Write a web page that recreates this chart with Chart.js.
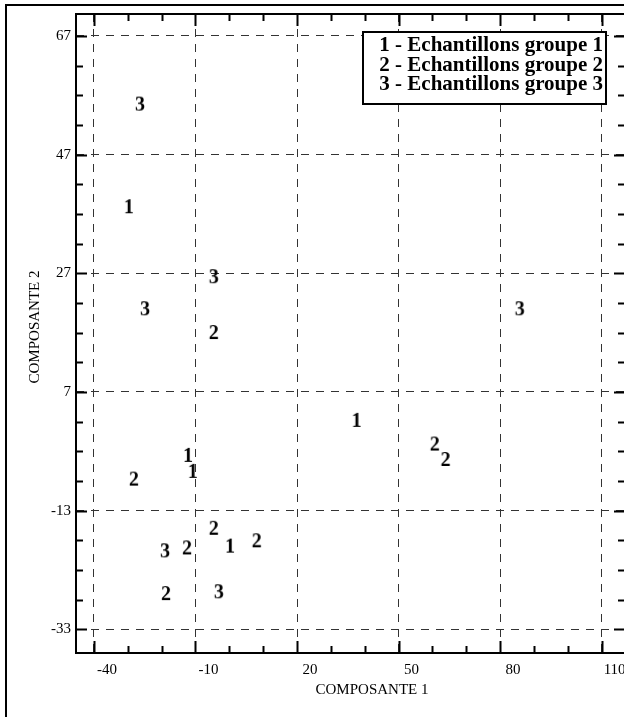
<!DOCTYPE html>
<html>
<head>
<meta charset="utf-8">
<script src="https://cdn.jsdelivr.net/npm/chart.js@4"></script>
<style>
  html, body { margin: 0; padding: 0; overflow: hidden; background: #fff; width: 624px; height: 717px; }
  #wrap { position: absolute; left: 0; top: 0; width: 700px; height: 717px; }
  #frame { position: absolute; left: 5px; top: 4px; width: 800px; height: 800px; border: 2px solid #000; pointer-events: none; }
</style>
</head>
<body>
<div id="wrap"><canvas id="chart" width="700" height="717"></canvas></div>
<div id="frame"></div>
<script>
  // values
  var groupNames = ['Echantillons groupe 1', 'Echantillons groupe 2', 'Echantillons groupe 3'];
  var groupMarks = ['1', '2', '3'];

  var group1X = [-29.7, -12.2, -10.8, 37.6, 0.2];
  var group1Y = [38.3, -3.6, -6.3, 2.3, -18.9];

  var group2X = [-4.6, 60.7, 63.9, -28.2, -4.6, -12.5, 8.1, -18.7];
  var group2Y = [17.1, -1.7, -4.3, -7.6, -15.9, -19.2, -18.0, -26.9];

  var group3X = [-26.4, -24.9, -4.6, 85.8, -19.0, -3.1];
  var group3Y = [55.6, 21.1, 26.5, 21.1, -19.7, -26.6];

  var xTicks = [-40, -10, 20, 50, 80, 110];
  var yTicks = [-33, -13, 7, 27, 47, 67];
  var xTitle = 'COMPOSANTE 1';
  var yTitle = 'COMPOSANTE 2';

  var serif = '"Liberation Serif", "DejaVu Serif", serif';

  function toPoints(xs, ys) {
    var pts = [];
    for (var i = 0; i < xs.length; i++) {
      pts.push({ x: xs[i], y: ys[i] });
    }
    return pts;
  }

  // digit used as the marker
  function markImage(txt) {
    var c = document.createElement('canvas');
    c.width = 18;
    c.height = 22;
    var g = c.getContext('2d');
    g.fillStyle = '#000';
    g.font = 'bold 20px ' + serif;
    g.textAlign = 'center';
    g.textBaseline = 'alphabetic';
    g.fillText(txt, 9, 11 + 6.8);
    return c;
  }

  var framePlugin = {
    id: 'framePlugin',
    afterDraw: function(chart) {
      var ctx = chart.ctx;
      var a = chart.chartArea;
      var xs = chart.scales.x;
      var ys = chart.scales.y;
      ctx.save();
      ctx.strokeStyle = '#000';
      ctx.lineWidth = 2;
      ctx.strokeRect(a.left, a.top, a.right - a.left, a.bottom - a.top);

      // inward tick marks
      ctx.beginPath();
      for (var v = -40; v <= 110; v += 10) {
        var px = Math.round(xs.getPixelForValue(v)) + 0.5;
        var len = ((v + 40) % 30 == 0) ? 12 : 7;
        ctx.moveTo(px, a.bottom);
        ctx.lineTo(px, a.bottom - len);
        ctx.moveTo(px, a.top);
        ctx.lineTo(px, a.top + len);
      }
      for (var w = -33; w <= 67; w += 5) {
        var py = Math.round(ys.getPixelForValue(w)) + 0.5;
        var l2 = ((w + 33) % 20 == 0) ? 11 : 7;
        ctx.moveTo(a.left, py);
        ctx.lineTo(a.left + l2, py);
        ctx.moveTo(a.right, py);
        ctx.lineTo(a.right - l2, py);
      }
      ctx.stroke();

      // axis titles
      ctx.fillStyle = '#000';
      ctx.font = '15px ' + serif;
      ctx.textAlign = 'center';
      ctx.textBaseline = 'middle';
      ctx.fillText(xTitle, 372, 690);
      ctx.translate(35, 327);
      ctx.rotate(-Math.PI / 2);
      ctx.fillText(yTitle, 0, 0);
      ctx.restore();

      // legend box
      ctx.save();
      var bx = 363, by = 32, bw = 243, bh = 72;
      ctx.fillStyle = '#fff';
      ctx.fillRect(bx, by, bw, bh);
      ctx.strokeStyle = '#000';
      ctx.lineWidth = 2;
      ctx.strokeRect(bx, by, bw, bh);
      ctx.fillStyle = '#000';
      ctx.font = 'bold 21px ' + serif;
      ctx.textAlign = 'right';
      ctx.textBaseline = 'middle';
      chart.data.datasets.forEach(function(ds, i) {
        ctx.fillText(groupMarks[i] + ' - ' + ds.label, bx + bw - 3, by + 14 + i * 19.5);
      });
      ctx.restore();
    }
  };

  var datasets = [];
  var allX = [group1X, group2X, group3X];
  var allY = [group1Y, group2Y, group3Y];
  for (var k = 0; k < 3; k++) {
    datasets.push({
      label: groupNames[k],
      data: toPoints(allX[k], allY[k]),
      pointStyle: markImage(groupMarks[k]),
      pointRadius: 10,
      pointHoverRadius: 10
    });
  }

  new Chart(document.getElementById('chart'), {
    type: 'scatter',
    data: { datasets: datasets },
    options: {
      responsive: false,
      animation: false,
      layout: { padding: { top: 12, right: 75, left: 0, bottom: 0 } },
      plugins: {
        legend: { display: false },
        tooltip: { enabled: false }
      },
      scales: {
        x: {
          type: 'linear',
          min: -45.3,
          max: 116.9,
          afterBuildTicks: function(scale) {
            scale.ticks = xTicks.map(function(v) { return { value: v }; });
          },
          afterFit: function(scale) { scale.height = 64; },
          grid: { color: '#333', lineWidth: 1, drawTicks: false },
          border: { display: false, dash: [8, 7] },
          ticks: {
            color: '#000',
            font: { family: serif, size: 15 },
            padding: 8,
            labelOffset: 13,
            maxRotation: 0
          }
        },
        y: {
          type: 'linear',
          min: -37.0,
          max: 70.7,
          afterBuildTicks: function(scale) {
            scale.ticks = yTicks.map(function(v) { return { value: v }; });
          },
          afterFit: function(scale) { scale.width = 76; },
          grid: { color: '#333', lineWidth: 1, drawTicks: false },
          border: { display: false, dash: [8, 7] },
          ticks: {
            color: '#000',
            font: { family: serif, size: 15 },
            padding: 5
          }
        }
      }
    },
    plugins: [framePlugin]
  });
</script>
</body>
</html>
